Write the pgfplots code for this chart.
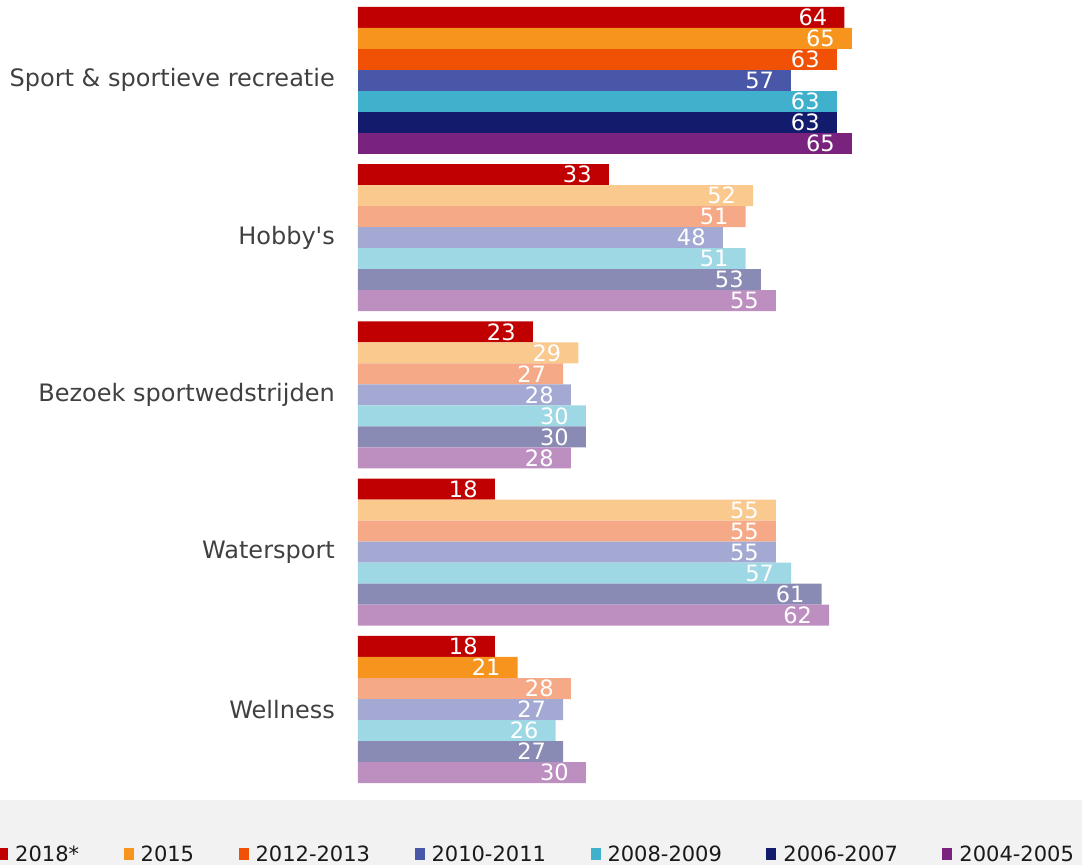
\documentclass[border=0pt]{standalone}
\usepackage{pgfplots}
\pgfplotsset{compat=1.18}
\usepackage{fontspec}
\setmainfont{DejaVu Sans}
\definecolor{cA}{HTML}{C00000}
\definecolor{cB}{HTML}{F7941D}
\definecolor{cC}{HTML}{F05105}
\definecolor{cD}{HTML}{4857A7}
\definecolor{cE}{HTML}{3FB1CD}
\definecolor{cF}{HTML}{131B6C}
\definecolor{cG}{HTML}{7A237E}
\definecolor{lB}{HTML}{F9C98E}
\definecolor{lC}{HTML}{F6A986}
\definecolor{lD}{HTML}{A3A9D2}
\definecolor{lE}{HTML}{9FD8E5}
\definecolor{lF}{HTML}{8A8BB5}
\definecolor{lG}{HTML}{BD8FC0}
\definecolor{labgray}{HTML}{404040}
\definecolor{band}{HTML}{F2F2F2}
\begin{document}
\begin{tikzpicture}
\fill[band] (-358pt,-17pt) rectangle (724pt,-82pt);
\begin{axis}[
  scale only axis,
  width=722pt, height=776.16pt,
  xmin=0, xmax=95,
  ymin=-36.46, ymax=0.5,
  xbar, bar shift=0pt, bar width=1,
  every axis plot/.append style={bar shift=0pt, draw=none},
  axis line style={draw=none},
  major tick length=0pt,
  xtick=\empty,
  ytick={-3,-10.49,-17.98,-25.47,-32.96},
  yticklabels={Sport \& sportieve recreatie, Hobby\textquotesingle s, Bezoek sportwedstrijden, Watersport, Wellness},
  yticklabel style={font=\fontsize{24}{28}\selectfont, text=labgray, inner sep=0pt, anchor=east, xshift=-23pt},
  clip=false,
  /pgf/number format/assume math mode=true,
  nodes near coords,
  nodes near coords style={font=\fontsize{22.5}{26}\selectfont, text=white, anchor=east, inner sep=0pt, xshift=-17pt},
  legend columns=7,
  legend image code/.code={\fill[#1] (0pt,-6pt) rectangle (10pt,6pt);},
  legend style={at={(-0.4986,-0.0921)}, anchor=west, draw=none, fill=none, inner sep=0pt,
    font=\fontsize{21}{25}\selectfont, text=black!90,
    nodes={inner sep=0pt},
    /tikz/every odd column/.append style={column sep=7pt},
    /tikz/every even column/.append style={column sep=44.5pt}},
]
% 2018*
\addplot[fill=cA] coordinates {(64,0) (33,-7.49) (23,-14.98) (18,-22.47) (18,-29.96)};
% 2015
\addplot[fill=cB] coordinates {(65,-1) (21,-30.96)};
\addplot[fill=lB, forget plot] coordinates {(52,-8.49) (29,-15.98) (55,-23.47)};
% 2012-2013
\addplot[fill=cC] coordinates {(63,-2)};
\addplot[fill=lC, forget plot] coordinates {(51,-9.49) (27,-16.98) (55,-24.47) (28,-31.96)};
% 2010-2011
\addplot[fill=cD] coordinates {(57,-3)};
\addplot[fill=lD, forget plot] coordinates {(48,-10.49) (28,-17.98) (55,-25.47) (27,-32.96)};
% 2008-2009
\addplot[fill=cE] coordinates {(63,-4)};
\addplot[fill=lE, forget plot] coordinates {(51,-11.49) (30,-18.98) (57,-26.47) (26,-33.96)};
% 2006-2007
\addplot[fill=cF] coordinates {(63,-5)};
\addplot[fill=lF, forget plot] coordinates {(53,-12.49) (30,-19.98) (61,-27.47) (27,-34.96)};
% 2004-2005
\addplot[fill=cG] coordinates {(65,-6)};
\addplot[fill=lG, forget plot] coordinates {(55,-13.49) (28,-20.98) (62,-28.47) (30,-35.96)};
\legend{2018*,2015,2012-2013,2010-2011,2008-2009,2006-2007,2004-2005}
\end{axis}
\pgfresetboundingbox
\path (-358pt,-82pt) rectangle (724pt,783pt);
\end{tikzpicture}
\end{document}
